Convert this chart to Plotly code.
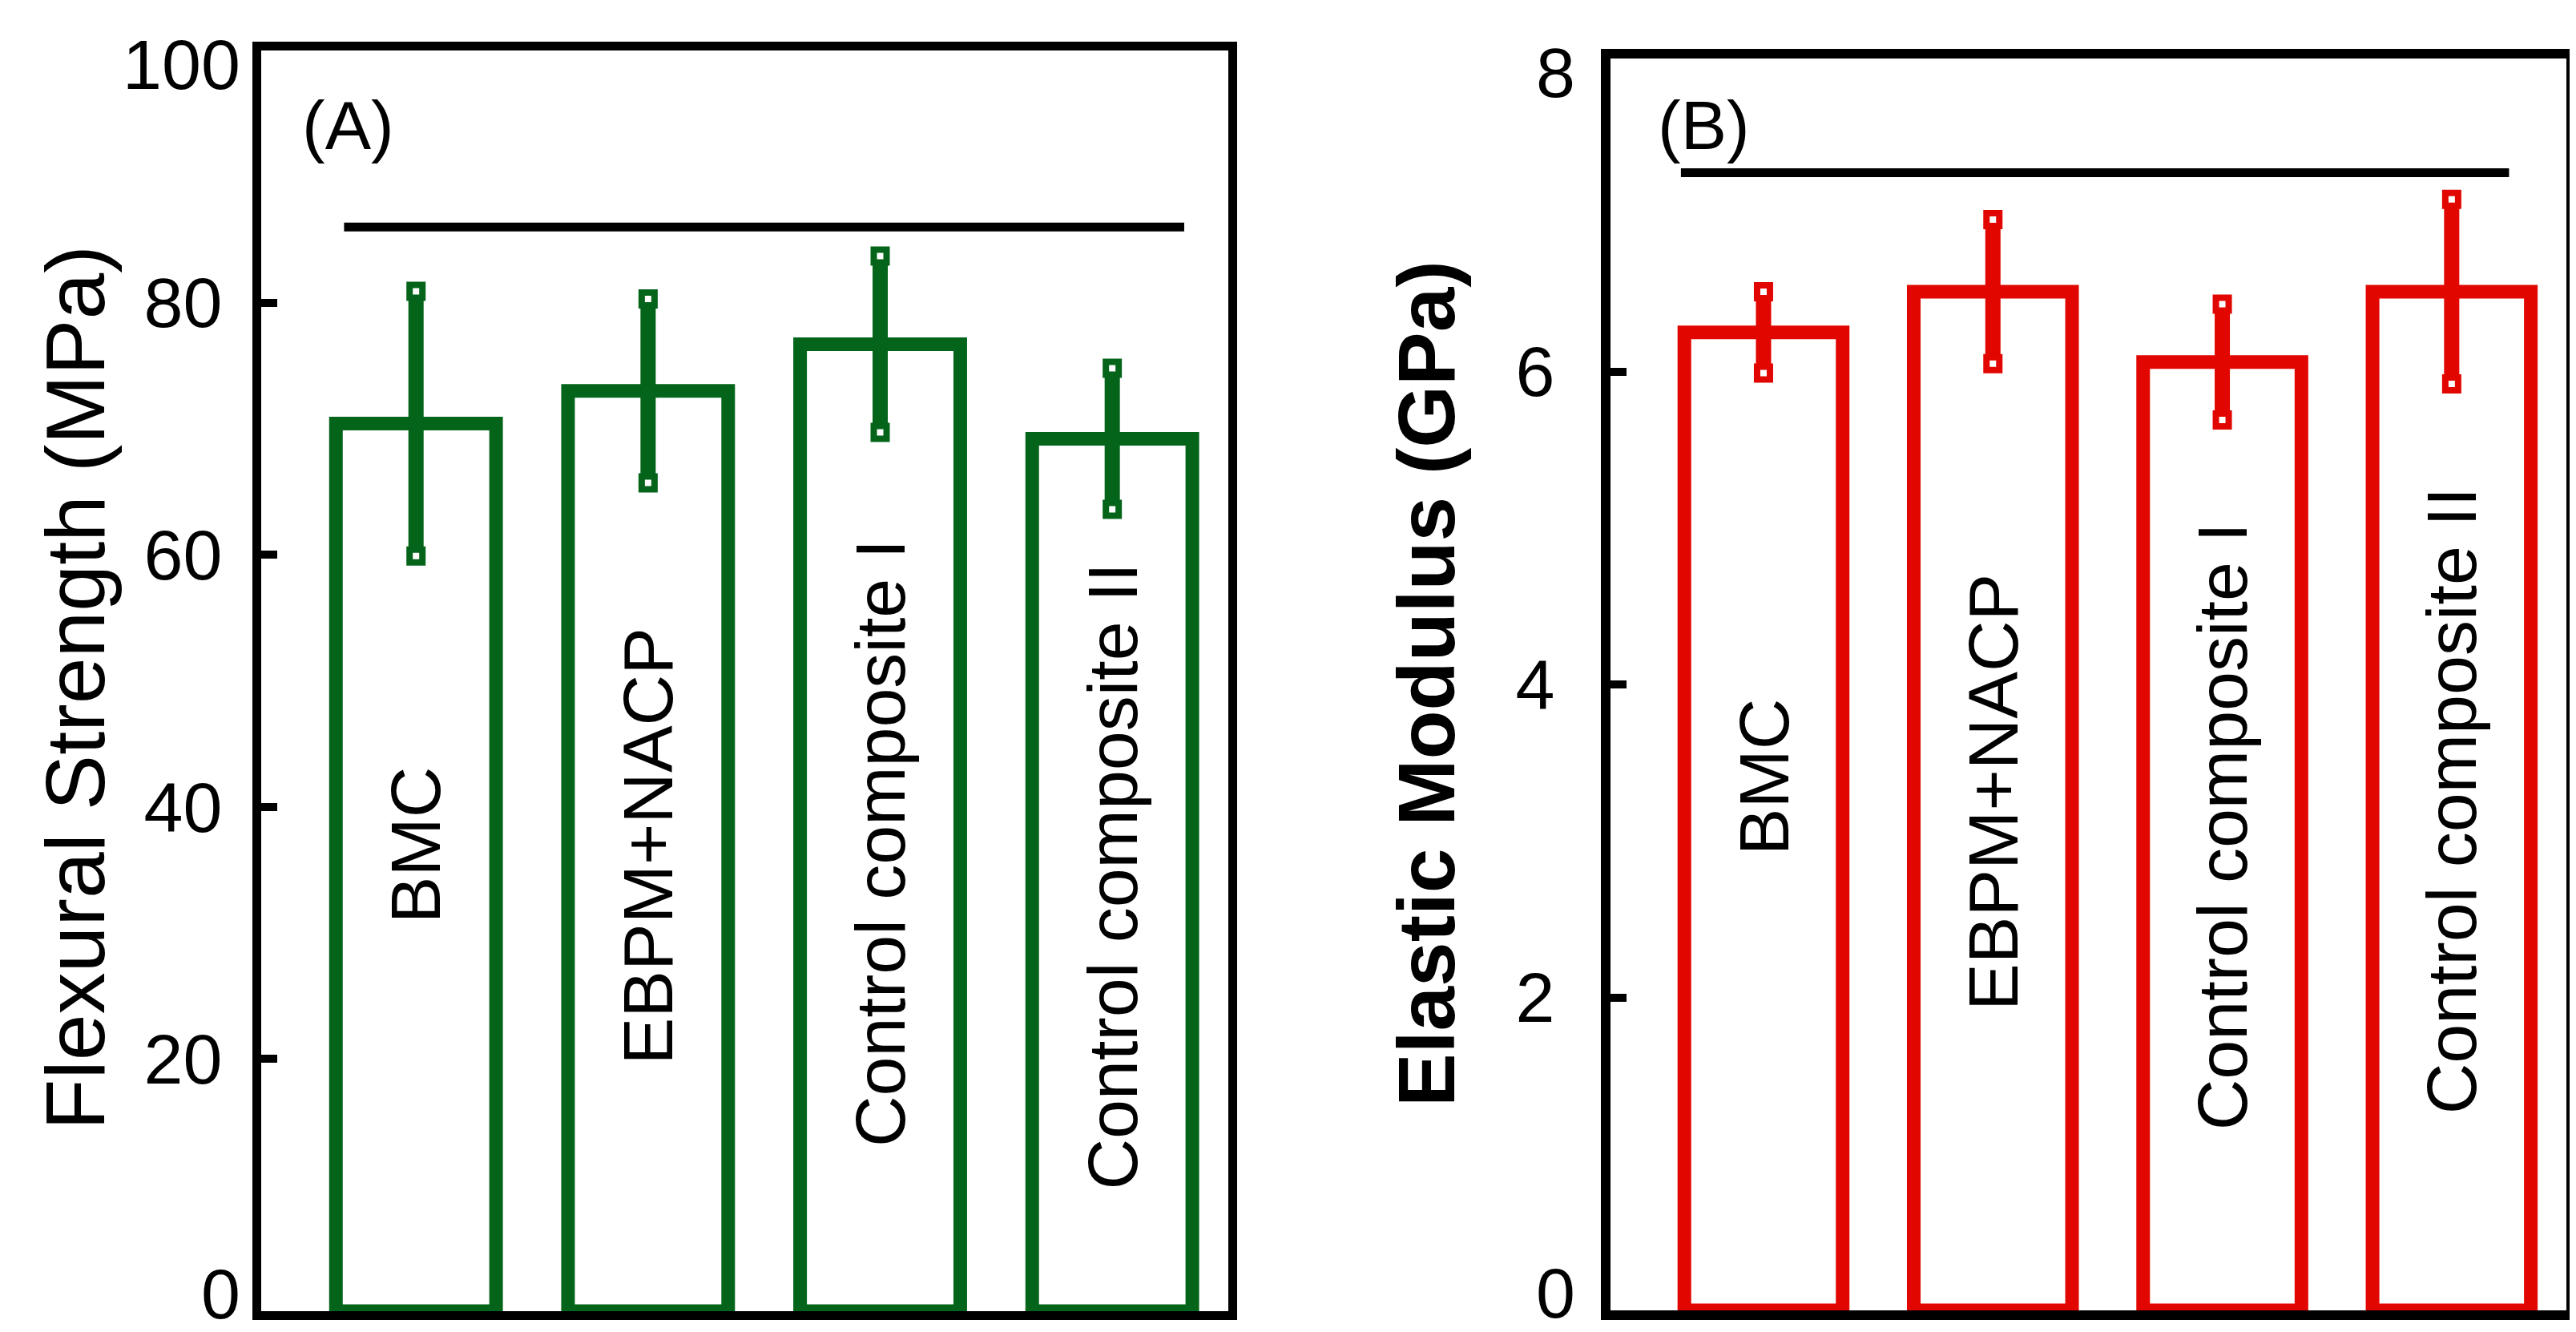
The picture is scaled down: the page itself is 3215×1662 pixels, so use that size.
import plotly.graph_objects as go

# ---------------- data ----------------
categories = ["BMC", "EBPM+NACP", "Control composite I", "Control composite II"]
flex_mean = [70.4, 73.0, 76.7, 69.2]
flex_sd = [10.5, 7.3, 7.0, 5.6]
mod_mean = [6.25, 6.51, 6.06, 6.51]
mod_sd = [0.26, 0.46, 0.37, 0.59]
flex_ticks = [0, 20, 40, 60, 80, 100]
mod_ticks = [0, 2, 4, 6, 8]
flex_label_y = [37.0, 36.9, 37.1, 34.5]
mod_label_y = [3.41, 3.31, 3.09, 3.26]
sig_A = {"y": 86.0, "x0": -0.31, "x1": 3.31}
sig_B = {"y": 7.27, "x0": -0.36, "x1": 3.25}

GREEN = "#04641A"
RED = "#E10600"
FONT = "Liberation Sans, Arial, sans-serif"
W, H = 3215, 1662
TICK_SIZE = 88

fig = go.Figure()

def add_panel(xa, ya, means, sds, color):
    fig.add_trace(go.Bar(
        x=categories, y=means, xaxis=xa, yaxis=ya, width=0.69,
        marker=dict(color="white", line=dict(color=color, width=17)),
        error_y=dict(type="data", array=sds, color=color, thickness=19, width=0),
        showlegend=False, hoverinfo="skip"))
    caps_x = categories + categories
    caps_y = [m + s for m, s in zip(means, sds)] + [m - s for m, s in zip(means, sds)]
    fig.add_trace(go.Scatter(
        x=caps_x, y=caps_y, xaxis=xa, yaxis=ya, mode="markers",
        marker=dict(symbol="square", size=16, color="white",
                    line=dict(color=color, width=8)),
        showlegend=False, hoverinfo="skip", cliponaxis=False))

add_panel("x", "y", flex_mean, flex_sd, GREEN)
add_panel("x2", "y2", mod_mean, mod_sd, RED)


def inner_text(ticks):
    # end labels are drawn separately (they sit slightly inside in the original)
    return ["" if i in (0, len(ticks) - 1) else str(t) for i, t in enumerate(ticks)]


axis_common = dict(showgrid=False, zeroline=False, showline=True, mirror=True,
                   linecolor="black", automargin=False)
yaxis_common = dict(ticks="inside", ticklen=20, tickwidth=10, tickcolor="black",
                    tickfont=dict(size=TICK_SIZE, family=FONT), ticklabeloverflow="allow")
fig.update_layout(
    width=W, height=H, margin=dict(l=0, r=0, t=0, b=0, pad=0, autoexpand=False),
    paper_bgcolor="white", plot_bgcolor="white",
    font=dict(family=FONT, color="black"),
    xaxis=dict(domain=[318 / W, 1525 / W], range=[-0.667, 3.5], showticklabels=False,
               ticks="", anchor="y", linewidth=11, **axis_common),
    yaxis=dict(domain=[1 - 1628 / H, 1 - 55 / H], range=[0, 100], tickvals=flex_ticks,
               ticktext=inner_text(flex_ticks),
               anchor="x", linewidth=11, ticklabelstandoff=20,
               **yaxis_common, **axis_common),
    xaxis2=dict(domain=[2002 / W, 3195 / W], range=[-0.667, 3.5], showticklabels=False,
                ticks="", anchor="y2", linewidth=12, **axis_common),
    yaxis2=dict(domain=[1 - 1627 / H, 1 - 65 / H], range=[0, 8], tickvals=mod_ticks,
                ticktext=inner_text(mod_ticks),
                anchor="x2", linewidth=12, ticklabelstandoff=40,
                **yaxis_common, **axis_common),
)

shapes = [
    dict(type="line", xref="x", yref="y", x0=sig_A["x0"], x1=sig_A["x1"],
         y0=sig_A["y"], y1=sig_A["y"], line=dict(color="black", width=11)),
    dict(type="line", xref="x2", yref="y2", x0=sig_B["x0"], x1=sig_B["x1"],
         y0=sig_B["y"], y1=sig_B["y"], line=dict(color="black", width=11)),
]
fig.update_layout(shapes=shapes)

annotations = []
for c, ly in zip(categories, flex_label_y):
    annotations.append(dict(x=c, y=ly, xref="x", yref="y", text=c, textangle=-90,
                            xanchor="center", yanchor="middle",
                            showarrow=False, font=dict(size=88, family=FONT)))
for c, ly in zip(categories, mod_label_y):
    annotations.append(dict(x=c, y=ly, xref="x2", yref="y2", text=c, textangle=-90,
                            xanchor="center", yanchor="middle",
                            showarrow=False, font=dict(size=88, family=FONT)))

# end tick labels (slightly nudged inward like the original)
end_labels = [
    ("y", flex_ticks[0], 294 / W, 22),
    ("y", flex_ticks[-1], 294 / W, -18),
    ("y2", mod_ticks[0], 1960 / W, 22),
    ("y2", mod_ticks[-1], 1960 / W, -18),
]
for yref, val, xp, shift in end_labels:
    annotations.append(dict(x=xp, y=val, xref="paper", yref=yref, text=str(val),
                            xanchor="right", yanchor="middle", yshift=shift,
                            showarrow=False, font=dict(size=TICK_SIZE, family=FONT)))

annotations += [
    dict(x=426 / W, y=1 - 148 / H, xref="paper", yref="paper", text="(A)",
         xanchor="center", yanchor="middle",
         showarrow=False, font=dict(size=86, family=FONT)),
    dict(x=2118 / W, y=1 - 148 / H, xref="paper", yref="paper", text="(B)",
         xanchor="center", yanchor="middle",
         showarrow=False, font=dict(size=86, family=FONT)),
    dict(x=86 / W, y=1 - 850 / H, xref="paper", yref="paper", text="Flexural Strength (MPa)",
         xanchor="center", yanchor="middle",
         textangle=-90, showarrow=False, font=dict(size=104, family=FONT)),
    dict(x=1772 / W, y=1 - 845 / H, xref="paper", yref="paper",
         text="<b>Elastic Modulus (GPa)</b>", xanchor="center", yanchor="middle",
         textangle=-90, showarrow=False, font=dict(size=100, family=FONT)),
]
fig.update_layout(annotations=annotations)

fig.write_html("out.html")
